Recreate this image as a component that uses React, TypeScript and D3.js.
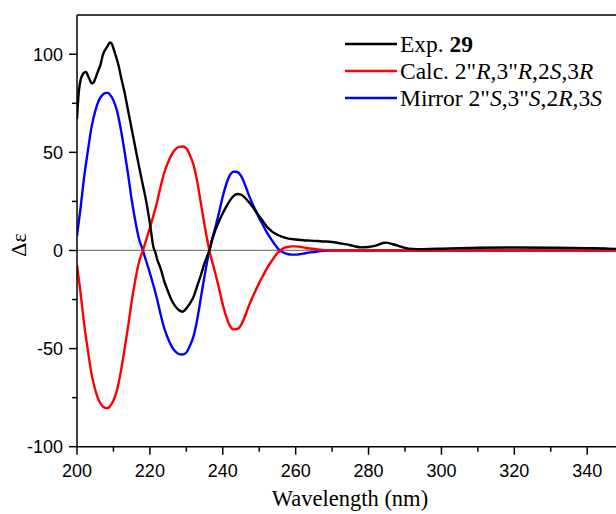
import React from "react";
import * as d3 from "d3";

const expWl = [200, 200.5, 201, 201.5, 202, 202.5, 203, 203.5, 204, 204.5, 205, 205.5, 206, 206.5, 207, 207.5, 208, 208.5, 209, 209.5, 210, 210.5, 211, 211.5, 212, 213, 214, 215, 216, 217, 218, 219, 220, 221, 221.5, 222, 223, 224, 225, 226, 227, 228, 229, 230, 231, 232, 233, 234, 235, 236, 236.5, 237, 238, 239, 240, 241, 242, 243, 244, 245, 246, 247, 248, 249, 250, 251, 252, 253, 254, 255, 256, 257, 258, 260, 262, 264, 266, 268, 270, 272, 274, 276, 278, 280, 282, 284, 285, 286, 288, 290, 292, 295, 300, 305, 310, 320, 330, 340, 345, 348];
const expVal = [67, 81, 87, 89.5, 90.7, 91, 89, 87, 85.2, 85.5, 87.5, 90, 92.5, 95, 99, 101.5, 103, 104.5, 106, 105.5, 103, 100, 97, 93.5, 89, 81, 71.5, 62, 52.5, 43, 34, 25, 14, 1.5, -1, -4.5, -9.5, -16, -21, -25.5, -28.5, -30.5, -31.2, -29.5, -27, -23.5, -18, -12.5, -6.5, -1.5, 1, 5, 10.5, 15, 19, 22.5, 25.5, 27.8, 28.8, 28.5, 27, 25, 22.8, 20, 17.5, 15, 12.3, 10.5, 9, 8, 7.2, 6.5, 6, 5.6, 5.2, 5, 4.8, 4.6, 4.3, 3.7, 3.1, 2.2, 1.6, 1.8, 2.5, 3.8, 4, 3.5, 2.5, 1.3, 0.8, 0.7, 0.9, 1.2, 1.4, 1.5, 1.4, 1.2, 1.0, 0.8];

const calcWl = [200, 201, 202, 203, 204, 205, 206, 207, 208, 208.5, 209, 210, 211, 212, 213, 214, 215, 216, 217, 218, 219, 220, 221, 222, 223, 224, 225, 226, 227, 228, 229, 230, 231, 232, 233, 234, 235, 236, 236.5, 237, 238, 239, 240, 241, 242, 243, 244, 245, 246, 247, 248, 249, 250, 251, 252, 253, 254, 255, 256, 257, 258, 259, 260, 261, 262, 264, 266, 268, 270, 280, 300, 320, 348];
const calcVal = [-7.5, -22, -38, -51, -63, -71, -76.5, -79.3, -80.3, -80.3, -79.5, -76.5, -71, -62, -51, -39, -26, -15, -6, -0.5, 5.5, 11.5, 18, 25, 33, 40, 45, 49, 51.5, 52.8, 53, 52, 48.5, 43.5, 35, 24, 13, 3, -1.5, -5, -12, -19.5, -27.5, -34, -38.5, -40.2, -40, -38, -34, -29, -24.5, -20.5, -16.5, -13, -9.5, -6.5, -3.8, -1.3, 0.4, 1.4, 1.9, 2.1, 2.1, 1.9, 1.6, 1, 0.5, 0.2, 0, 0, 0, 0, 0];

const mirrorWl = [200, 201, 202, 203, 204, 205, 206, 207, 208, 208.5, 209, 210, 211, 212, 213, 214, 215, 216, 217, 218, 219, 220, 221, 222, 223, 224, 225, 226, 227, 228, 229, 230, 231, 232, 233, 234, 235, 236, 236.5, 237, 238, 239, 240, 241, 242, 243, 244, 245, 246, 247, 248, 249, 250, 251, 252, 253, 254, 255, 256, 257, 258, 259, 260, 261, 262, 264, 266, 268, 270, 280, 300, 320, 348];
const mirrorVal = [7.5, 22, 38, 51, 63, 71, 76.5, 79.3, 80.3, 80.3, 79.5, 76.5, 71, 62, 51, 39, 26, 15, 6, 0.5, -5.5, -11.5, -18, -25, -33, -40, -45, -49, -51.5, -52.8, -53, -52, -48.5, -43.5, -35, -24, -13, -3, 1.5, 5, 12, 19.5, 27.5, 34, 38.5, 40.2, 40, 38, 34, 29, 24.5, 20.5, 16.5, 13, 9.5, 6.5, 3.8, 1.3, -0.4, -1.4, -1.9, -2.1, -2.1, -1.9, -1.6, -1, -0.5, -0.2, 0, 0, 0, 0, 0];

const xTicks = [200, 220, 240, 260, 280, 300, 320, 340];
const xMinor = [210, 230, 250, 270, 290, 310, 330];
const yTicks = [-100, -50, 0, 50, 100];
const yMinor = [-75, -25, 25, 75];

const W = 616;
const H = 514;
const left = 77;
const top = 15;
const bottom = 446.7;

export default function App() {
  const x = d3.scaleLinear().domain([200, 347.9]).range([left, W]);
  const y = d3.scaleLinear().domain([-100, 120]).range([bottom, top]);

  const line = d3
    .line<[number, number]>()
    .x((d) => x(d[0]))
    .y((d) => y(d[1]))
    .curve(d3.curveMonotoneX);

  const series = [
    { wl: mirrorWl, v: mirrorVal, color: "#0000ff" },
    { wl: calcWl, v: calcVal, color: "#ff0000" },
    { wl: expWl, v: expVal, color: "#000000" },
  ];

  const serif = "'Liberation Serif', 'Times New Roman', serif";
  const sans = "'Liberation Sans', Arial, sans-serif";

  const legend = [
    { color: "#000000", y: 44 },
    { color: "#ff0000", y: 71 },
    { color: "#0000ff", y: 98 },
  ];
  const lf = 23.5;

  return (
    <svg
      width={W}
      height={H}
      style={{ position: "absolute", left: 0, top: 0, background: "#fff" }}
    >
      <defs>
        <clipPath id="plot">
          <rect x={left} y={top} width={W - left} height={bottom - top} />
        </clipPath>
      </defs>
      <line x1={left} x2={W} y1={y(0)} y2={y(0)} stroke="#808080" strokeWidth={1.2} />
      <g clipPath="url(#plot)">
        {series.map((s, i) => (
          <path
            key={i}
            d={line(s.wl.map((w, j) => [w, s.v[j]] as [number, number])) || ""}
            fill="none"
            stroke={s.color}
            strokeWidth={2.4}
            strokeLinejoin="round"
          />
        ))}
      </g>
      <line x1={left} x2={W} y1={top} y2={top} stroke="#000" strokeWidth={1.5} />
      <line x1={left} x2={left} y1={top} y2={bottom} stroke="#000" strokeWidth={1.5} />
      <line x1={left} x2={W} y1={bottom} y2={bottom} stroke="#000" strokeWidth={1.5} />
      {yTicks.map((t) => (
        <g key={"y" + t}>
          <line x1={left - 8} x2={left} y1={y(t)} y2={y(t)} stroke="#000" strokeWidth={1.5} />
          <text
            x={left - 14}
            y={y(t)}
            dy="0.35em"
            textAnchor="end"
            fontFamily={sans}
            fontSize={18}
          >
            {t}
          </text>
        </g>
      ))}
      {yMinor.map((t) => (
        <line key={"ym" + t} x1={left - 5} x2={left} y1={y(t)} y2={y(t)} stroke="#000" strokeWidth={1.5} />
      ))}
      {xTicks.map((t) => (
        <g key={"x" + t}>
          <line x1={x(t)} x2={x(t)} y1={bottom} y2={bottom + 8} stroke="#000" strokeWidth={1.5} />
          <text x={x(t)} y={477} textAnchor="middle" fontFamily={sans} fontSize={18}>
            {t}
          </text>
        </g>
      ))}
      {xMinor.map((t) => (
        <line key={"xm" + t} x1={x(t)} x2={x(t)} y1={bottom} y2={bottom + 5} stroke="#000" strokeWidth={1.5} />
      ))}
      <text
        x={350}
        y={506}
        textAnchor="middle"
        fontFamily={serif}
        fontSize={22.5}
      >
        Wavelength (nm)
      </text>
      <text
        transform="translate(26,245) rotate(-90)"
        textAnchor="middle"
        fontFamily={serif}
        fontSize={22}
      >
        Δε
      </text>
      {legend.map((l, i) => (
        <line key={"l" + i} x1={345} x2={397} y1={l.y} y2={l.y} stroke={l.color} strokeWidth={2.4} />
      ))}
      <text x={400} y={44} dy="0.33em" fontFamily={serif} fontSize={lf}>
        Exp. <tspan fontWeight="bold">29</tspan>
      </text>
      <text x={400} y={71} dy="0.33em" fontFamily={serif} fontSize={lf}>
        Calc. 2"<tspan fontStyle="italic">R</tspan>,3"<tspan fontStyle="italic">R</tspan>,2<tspan fontStyle="italic">S</tspan>,3<tspan fontStyle="italic">R</tspan>
      </text>
      <text x={400} y={98} dy="0.33em" fontFamily={serif} fontSize={lf}>
        Mirror 2"<tspan fontStyle="italic">S</tspan>,3"<tspan fontStyle="italic">S</tspan>,2<tspan fontStyle="italic">R</tspan>,3<tspan fontStyle="italic">S</tspan>
      </text>
    </svg>
  );
}
